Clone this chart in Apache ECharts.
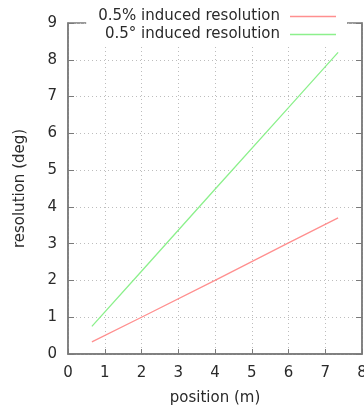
<!DOCTYPE html>
<html>
<head>
<meta charset="utf-8">
<script src="https://cdn.jsdelivr.net/npm/echarts@6/dist/echarts.min.js"></script>
<style>
  html, body { margin: 0; padding: 0; background: #fff; }
  #chart { width: 364px; height: 410px; }
</style>
</head>
<body>
<div id="chart"></div>
<script>
// values
const positions = [0.65, 2, 4, 6, 7.35];
const pctRes = [0.33, 1.0, 2.0, 3.02, 3.7];      // 0.5% induced resolution
const degRes = [0.75, 2.25, 4.48, 6.7, 8.2];     // 0.5° induced resolution
const seriesNames = ['0.5% induced resolution', '0.5° induced resolution'];
const seriesColors = ['#ff8f8f', '#8cf08c'];

const font = 'DejaVu Sans';
const txt = '#2a2a2a';
const axisGray = '#7a7a7a';
const fs = 15;

const pair = (xs, ys) => xs.map((x, i) => [x, ys[i]]);

const chart = echarts.init(document.getElementById('chart'));
chart.setOption({
  animation: false,
  grid: {
    left: 68, right: 2, top: 23, bottom: 56,
    outerBoundsMode: 'none',
    show: true, borderColor: axisGray, borderWidth: 1.5
  },
  legend: {
    orient: 'vertical',
    right: 17,
    top: 7,
    align: 'right',
    icon: 'rect',
    itemWidth: 46,
    itemHeight: 1.5,
    itemGap: 3,
    padding: [2, 11, 2, 12],
    backgroundColor: '#fff',
    textStyle: { fontFamily: font, fontSize: fs, color: txt, lineHeight: 15, padding: [0, 5, 0, 0] },
    data: seriesNames
  },
  xAxis: {
    type: 'value', min: 0, max: 8, interval: 1,
    name: 'position (m)', nameLocation: 'middle', nameGap: 37,
    nameTextStyle: { fontFamily: font, fontSize: fs, color: txt },
    axisLine: { onZero: false, lineStyle: { color: axisGray, width: 1.5 } },
    axisTick: { inside: true, length: 5, lineStyle: { color: axisGray } },
    axisLabel: { fontFamily: font, fontSize: fs, color: txt, margin: 12 },
    splitLine: { show: true, lineStyle: { color: '#bdbdbd', type: [1, 3] } }
  },
  yAxis: [{
    type: 'value', min: 0, max: 9, interval: 1,
    name: 'resolution (deg)', nameLocation: 'middle', nameGap: 40,
    nameTextStyle: { fontFamily: font, fontSize: fs, color: txt },
    axisLine: { show: true, onZero: false, lineStyle: { color: axisGray, width: 1.5 } },
    axisTick: { show: true, inside: true, length: 6, lineStyle: { color: axisGray } },
    axisLabel: { fontFamily: font, fontSize: fs, color: txt, margin: 11 },
    splitLine: { show: true, lineStyle: { color: '#bdbdbd', type: [1, 3] } }
  }, {
    type: 'value', min: 0, max: 9, interval: 1, position: 'right',
    axisLine: { show: true, onZero: false, lineStyle: { color: axisGray, width: 1.5 } },
    axisTick: { show: true, inside: true, length: 6, lineStyle: { color: axisGray } },
    axisLabel: { show: false },
    splitLine: { show: false }
  }],
  series: [
    {
      name: seriesNames[0], type: 'line', data: pair(positions, pctRes),
      showSymbol: false, color: seriesColors[0],
      lineStyle: { width: 1.3, color: seriesColors[0] }
    },
    {
      name: seriesNames[1], type: 'line', data: pair(positions, degRes),
      showSymbol: false, color: seriesColors[1],
      lineStyle: { width: 1.3, color: seriesColors[1] }
    }
  ]
});
</script>
</body>
</html>
